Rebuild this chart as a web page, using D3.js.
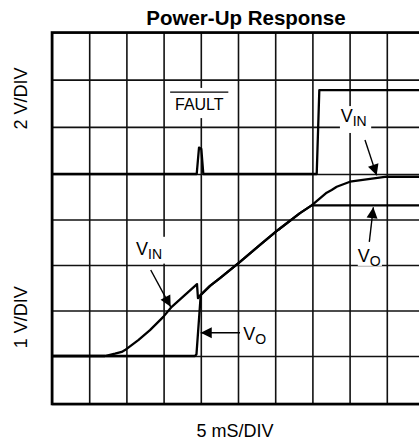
<!DOCTYPE html>
<html><head><meta charset="utf-8">
<script src="https://cdn.jsdelivr.net/npm/d3@7"></script>
<style>
html,body{margin:0;padding:0;background:#fff;}
svg{display:block;font-family:"Liberation Sans",Arial,sans-serif;}
</style></head>
<body>
<script>
// ---- data (time in ms, 5 ms/DIV) ----
const timeTicks = [0,5,10,15,20,25,30,35,40,45,50];
const divTicks = [0,1,2,3,4,5,6,7,8];
// V_IN, 1 V/DIV channel (0 V on first division)
const vinT = [0,7.12,8.47,9.37,9.81,11.6,13.17,14.96,16.09,19.49,19.62,20.03,21.24,22.58,25.27,27.96,30.38,33.33,34.9,36.92,37.59,38.27,40.05,44.99,50];
const vinV = [0,0,0.05,0.09,0.13,0.35,0.57,0.86,1.08,1.58,1.27,1.35,1.54,1.71,2.07,2.44,2.77,3.14,3.31,3.59,3.65,3.72,3.83,3.94,3.94];
// V_O, 1 V/DIV channel
const voT = [0,19.22,19.42,19.99,21.24,22.58,25.27,27.96,30.38,33.33,34.9,50];
const voV = [0,0,0.04,1.34,1.54,1.71,2.07,2.44,2.77,3.14,3.31,3.31];
// FAULT, 2 V/DIV channel (0 V on fifth division)
const faultT = [0,19.45,19.76,20.07,20.34,35.58,35.93,50];
const faultV = [0,0,1.12,1.06,0,0,3.56,3.56];

const W = 419, H = 442;
const svg = d3.select("body").append("svg").attr("width", W).attr("height", H);
svg.append("rect").attr("width", W).attr("height", H).attr("fill", "#fff");

const x = d3.scaleLinear().domain([0,50]).range([52,424]);
const yDiv = d3.scaleLinear().domain([0,1,5,8]).range([404,356,174,32.5]);
const yLow = v => yDiv(v + 1);
const yHigh = v => yDiv(5 + v / 2);

// clip
svg.append("clipPath").attr("id","plot").append("rect")
  .attr("x", x(0)).attr("y", yDiv(8)).attr("width", x(50)-x(0)).attr("height", yDiv(0)-yDiv(8));

// grid via axes
const gx = svg.append("g").attr("transform", `translate(0,${yDiv(0)})`)
  .call(d3.axisBottom(x).tickValues(timeTicks).tickSize(-(yDiv(0)-yDiv(8))).tickFormat(""));
const gy = svg.append("g").attr("transform", `translate(${x(0)},0)`)
  .call(d3.axisLeft(yDiv).tickValues(divTicks).tickSize(-(x(50)-x(0))).tickFormat(""));
[gx, gy].forEach(g => {
  g.select(".domain").remove();
  g.selectAll("line").attr("stroke", "#111").attr("stroke-width", 1.6);
});
// border
svg.append("rect").attr("x", x(0)).attr("y", yDiv(8)).attr("width", x(50)-x(0)).attr("height", yDiv(0)-yDiv(8))
  .attr("fill", "none").attr("stroke", "#000").attr("stroke-width", 2.6);

// label backgrounds (gaps in grid)
function bg(x0, y0, x1, y1) {
  svg.append("rect").attr("x", x0).attr("y", y0).attr("width", x1-x0).attr("height", y1-y0).attr("fill", "#fff");
}
bg(x(15.8), yHigh(3.65), x(23.9), yHigh(2.37));   // FAULT
bg(x(38.7), yHigh(2.88), x(42.9), yHigh(1.74));   // V_IN upper
bg(x(41.1), yLow(2.42), x(44.35), yLow(1.98));    // V_O upper
bg(x(14.5), yLow(2.62), x(15.4), yLow(2.03));     // V_IN lower

// traces
const plot = svg.append("g").attr("clip-path", "url(#plot)");
const lineLow = d3.line().x(d => x(d[0])).y(d => yLow(d[1]));
const lineHigh = d3.line().x(d => x(d[0])).y(d => yHigh(d[1]));
const sty = p => p.attr("fill","none").attr("stroke","#000").attr("stroke-width",2.3).attr("stroke-linejoin","round");
plot.append("path").datum(d3.zip(faultT, faultV)).attr("d", lineHigh).call(sty);
plot.append("path").datum(d3.zip(voT, voV)).attr("d", lineLow).call(sty);
plot.append("path").datum(d3.zip(vinT, vinV)).attr("d", lineLow).call(sty);

// arrows
function arrow(x1, y1, x2, y2) {
  svg.append("line").attr("x1", x1).attr("y1", y1).attr("x2", x2).attr("y2", y2)
    .attr("stroke", "#000").attr("stroke-width", 1.4);
  const a = Math.atan2(y2 - y1, x2 - x1), L = 11, hw = 5.5;
  const bx = x2 - L * Math.cos(a), by = y2 - L * Math.sin(a);
  const px = -Math.sin(a) * hw, py = Math.cos(a) * hw;
  svg.append("path").attr("d", `M${x2},${y2}L${bx+px},${by+py}L${bx-px},${by-py}Z`).attr("fill", "#000");
}
arrow(x(42.07), yHigh(1.44), x(43.64), yLow(3.97));  // V_IN upper
arrow(x(42.65), yLow(2.51), x(43.19), yLow(3.27));   // V_O upper
arrow(x(13.27), yLow(1.89), x(15.95), yLow(1.08));   // V_IN lower
arrow(x(25.27), yLow(0.51), x(19.99), yLow(0.51));   // V_O lower

// labels with subscripts
function sublabel(xp, yp, main, sub) {
  const t = svg.append("text").attr("x", xp).attr("y", yp).attr("font-size", 18).attr("fill", "#000");
  t.append("tspan").text(main);
  t.append("tspan").attr("dy", 4).attr("font-size", 14).text(sub);
}
sublabel(x(38.8), yHigh(2.22), "V", "IN");
sublabel(x(41.1), yLow(2.07), "V", "O");
sublabel(x(11.3), yLow(2.22), "V", "IN");
sublabel(x(25.7), yLow(0.35), "V", "O");

// FAULT with overline
svg.append("text").attr("x", x(19.8)).attr("y", yHigh(2.7)).attr("text-anchor", "middle")
  .attr("font-size", 16).attr("fill", "#000").text("FAULT");
svg.append("line").attr("x1", x(15.88)).attr("x2", x(23.7)).attr("y1", yHigh(3.47)).attr("y2", yHigh(3.47))
  .attr("stroke", "#000").attr("stroke-width", 1.3);

// title & axis labels
svg.append("text").attr("x", 246).attr("y", 25).attr("text-anchor", "middle")
  .attr("font-size", 20.5).attr("font-weight", "bold").text("Power-Up Response");
svg.append("text").attr("x", 235).attr("y", 437).attr("text-anchor", "middle")
  .attr("font-size", 18).text("5 mS/DIV");
svg.append("text").attr("transform", `translate(27,${yDiv(6.6)}) rotate(-90)`).attr("text-anchor", "middle")
  .attr("font-size", 18).text("2 V/DIV");
svg.append("text").attr("transform", `translate(27,${yDiv(1.85)}) rotate(-90)`).attr("text-anchor", "middle")
  .attr("font-size", 18).text("1 V/DIV");
</script>
</body></html>
